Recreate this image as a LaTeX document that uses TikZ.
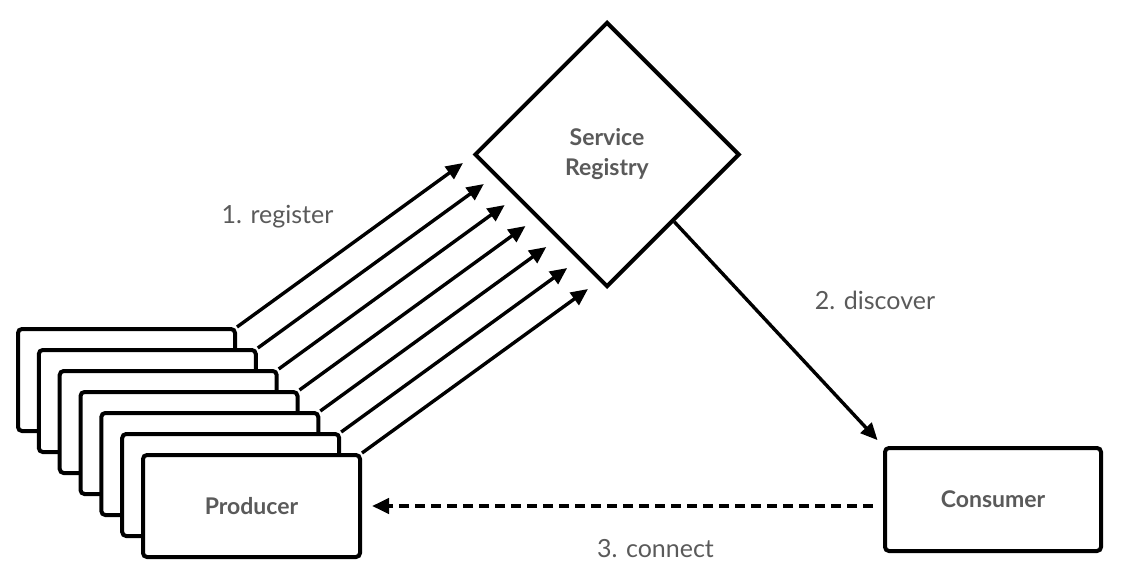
\documentclass[tikz,border=0pt]{standalone}
\usepackage{fontspec}
\setmainfont{Lato}
\usetikzlibrary{arrows.meta,shapes.geometric}
\definecolor{labelgray}{HTML}{5A5A5A}

\begin{document}
\begin{tikzpicture}[x=1pt, y=-1pt,
	box/.style={rectangle, rounded corners=4pt, draw=black, fill=white, line width=4pt, inner sep=0pt, minimum width=217pt, minimum height=102pt, font=\fontsize{23}{30}\selectfont\bfseries, text=labelgray},
	flow/.style={-{Triangle[length=17pt, width=15pt]}, line width=3.4pt},
	steplabel/.style={anchor=base, font=\fontsize{25}{30}\selectfont, text=labelgray}]
	\useasboundingbox (0, 0) rectangle (1121, 575);
	% producers, back to front
	\node[box] (prod0) at (126.5, 380) {};
	\node[box] (prod1) at (147.3, 401) {};
	\node[box] (prod2) at (168.2, 422) {};
	\node[box] (prod3) at (189.0, 443) {};
	\node[box] (prod4) at (209.8, 464) {};
	\node[box] (prod5) at (230.7, 485) {};
	\node[box] (prod6) at (251.5, 506) {Producer};
	% registry and consumer
	\node[diamond, aspect=1, draw=black, fill=white, line width=4pt, inner sep=0pt, minimum width=265pt, minimum height=265pt, align=center, font=\fontsize{23}{30}\selectfont\bfseries, text=labelgray] (registry) at (607, 154.5) {Service\\Registry};
	\node[box, minimum width=216pt, minimum height=103pt] (consumer) at (993, 499.5) {Consumer};
	% arrow tips along the registry
	\coordinate (tip0) at (463.0, 163);
	\coordinate (tip1) at (483.8, 184);
	\coordinate (tip2) at (504.7, 205);
	\coordinate (tip3) at (525.5, 226);
	\coordinate (tip4) at (546.3, 247);
	\coordinate (tip5) at (567.2, 268);
	\coordinate (tip6) at (588.0, 289);
	\draw[flow] (prod0.north east) -- (tip0);
	\draw[flow] (prod1.north east) -- (tip1);
	\draw[flow] (prod2.north east) -- (tip2);
	\draw[flow] (prod3.north east) -- (tip3);
	\draw[flow] (prod4.north east) -- (tip4);
	\draw[flow] (prod5.north east) -- (tip5);
	\draw[flow] (prod6.north east) -- (tip6);
	\draw[flow, shorten >=8pt] (registry.south east) -- (consumer.north west);
	\draw[flow, line width=4pt, dash pattern=on 10pt off 6pt, shorten <=10pt, shorten >=10pt] (consumer.west |- prod6.east) -- (prod6.east);
	% labels
	\node[steplabel] (reglabel) at (277.5, 223) {1. register};
	\node[steplabel] (disclabel) at (875, 309) {2. discover};
	\node[steplabel] (connlabel) at (655.5, 557) {3. connect};
\end{tikzpicture}
\end{document}
